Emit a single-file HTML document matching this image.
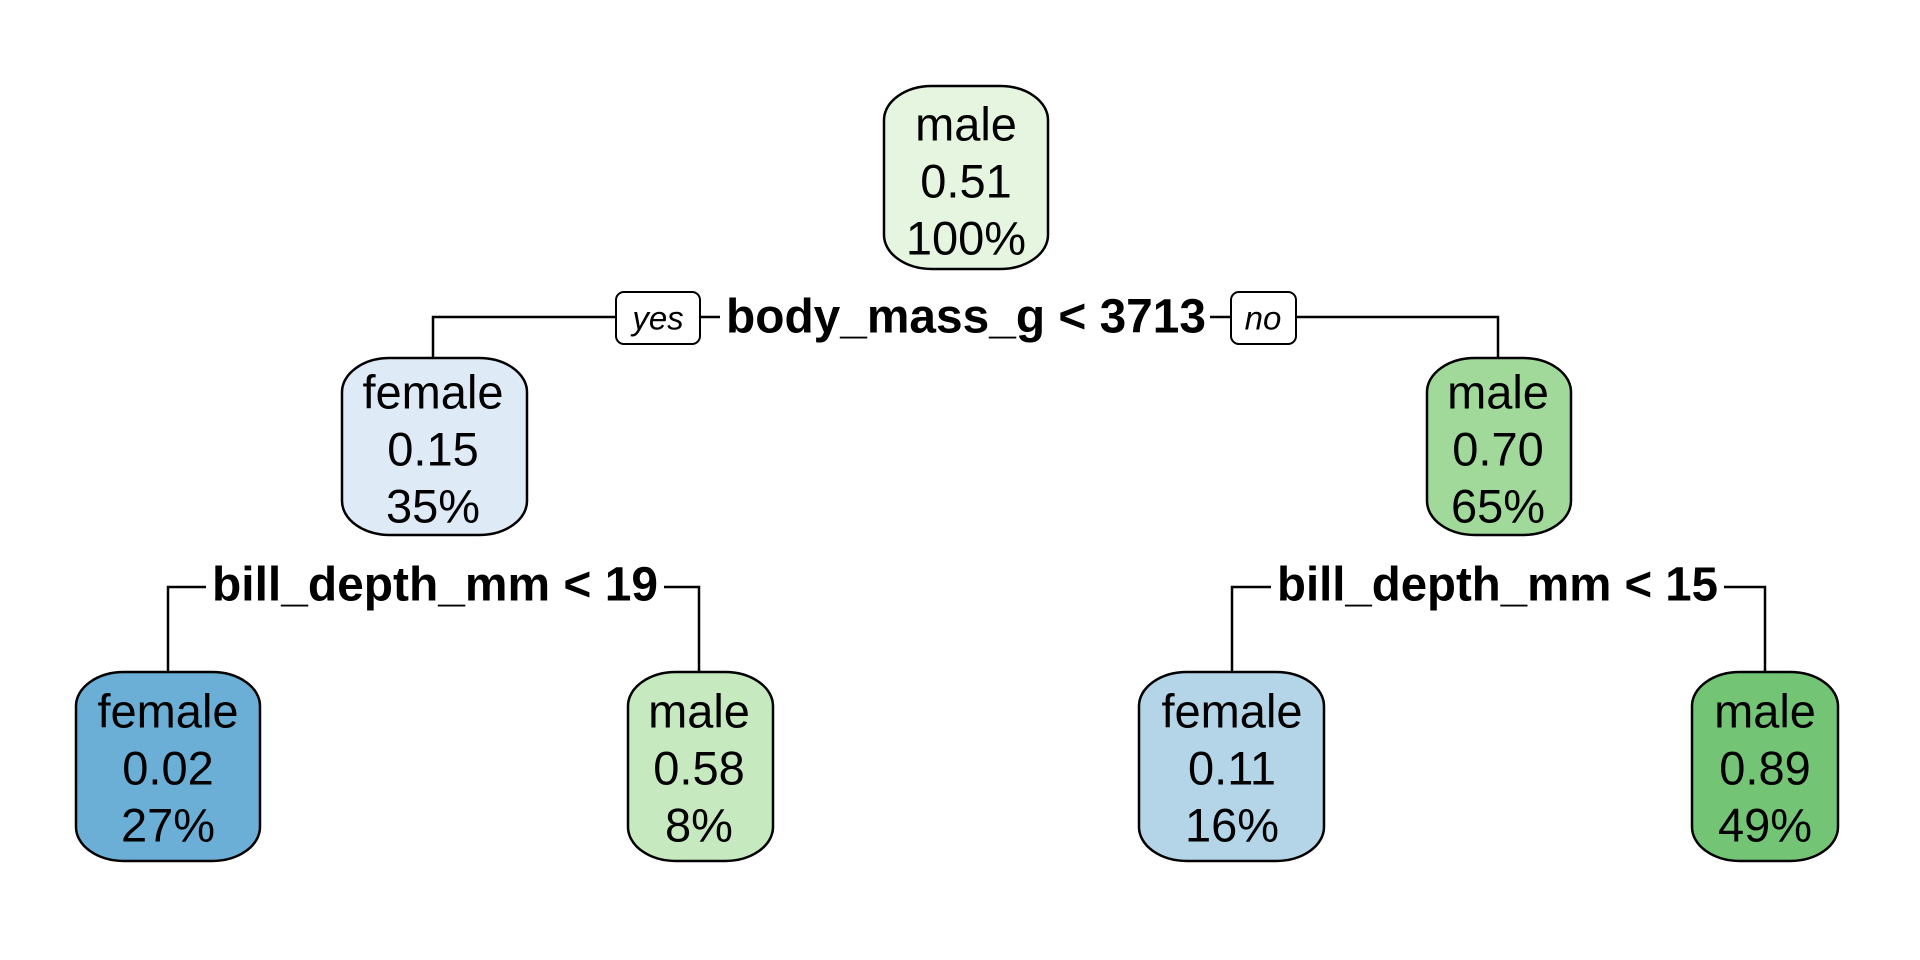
<!DOCTYPE html>
<html><head><meta charset="utf-8"><style>html,body{margin:0;padding:0;background:#fff}svg{display:block}</style></head>
<body>
<svg width="1920" height="960" viewBox="0 0 1920 960" xmlns="http://www.w3.org/2000/svg" font-family="Liberation Sans, Arial, sans-serif">
<g stroke="#000" stroke-width="2.5" fill="none">
<path d="M433 358 V317 H1498 V358"/>
<path d="M168 672 V587 H699 V672"/>
<path d="M1232 672 V587 H1765 V672"/>
</g>
<g stroke="#000" stroke-width="2.5">
<rect x="884" y="86" width="164" height="183" rx="48" ry="34" fill="#e5f5e0"/>
<rect x="342" y="358" width="185" height="177" rx="48" ry="34" fill="#deebf7"/>
<rect x="1427" y="358" width="144" height="177" rx="48" ry="34" fill="#a1d99b"/>
<rect x="76" y="672" width="184" height="189" rx="48" ry="34" fill="#6baed6"/>
<rect x="628" y="672" width="145" height="189" rx="48" ry="34" fill="#c7e9c0"/>
<rect x="1139" y="672" width="185" height="189" rx="48" ry="34" fill="#b4d4e8"/>
<rect x="1692" y="672" width="146" height="189" rx="48" ry="34" fill="#74c476"/>
<rect x="616" y="292" width="84" height="52" rx="8" fill="#fff" stroke-width="2"/>
<rect x="1231" y="292" width="65" height="52" rx="8" fill="#fff" stroke-width="2"/>
</g>
<g fill="#fff">
<rect x="720" y="295" width="490" height="45"/>
<rect x="206" y="565" width="458" height="45"/>
<rect x="1271" y="565" width="453" height="45"/>
</g>
<g font-size="33" font-style="italic" text-anchor="middle" dominant-baseline="central">
<text x="658" y="318">yes</text>
<text x="1263" y="318">no</text>
</g>
<g font-size="48" font-weight="bold" dominant-baseline="central">
<text x="726" y="317" textLength="480" lengthAdjust="spacingAndGlyphs">body_mass_g &lt; 3713</text>
<text x="212" y="585" textLength="446" lengthAdjust="spacingAndGlyphs">bill_depth_mm &lt; 19</text>
<text x="1277" y="585" textLength="441" lengthAdjust="spacingAndGlyphs">bill_depth_mm &lt; 15</text>
</g>
<g font-size="47" text-anchor="middle" dominant-baseline="central">
<text x="966" y="124">male</text><text x="966" y="181">0.51</text><text x="966" y="238">100%</text>
<text x="433" y="392">female</text><text x="433" y="449">0.15</text><text x="433" y="506">35%</text>
<text x="1498" y="392">male</text><text x="1498" y="449">0.70</text><text x="1498" y="506">65%</text>
<text x="168" y="711">female</text><text x="168" y="768">0.02</text><text x="168" y="825">27%</text>
<text x="699" y="711">male</text><text x="699" y="768">0.58</text><text x="699" y="825">8%</text>
<text x="1232" y="711">female</text><text x="1232" y="768">0.11</text><text x="1232" y="825">16%</text>
<text x="1765" y="711">male</text><text x="1765" y="768">0.89</text><text x="1765" y="825">49%</text>
</g>
</svg>
</body></html>
